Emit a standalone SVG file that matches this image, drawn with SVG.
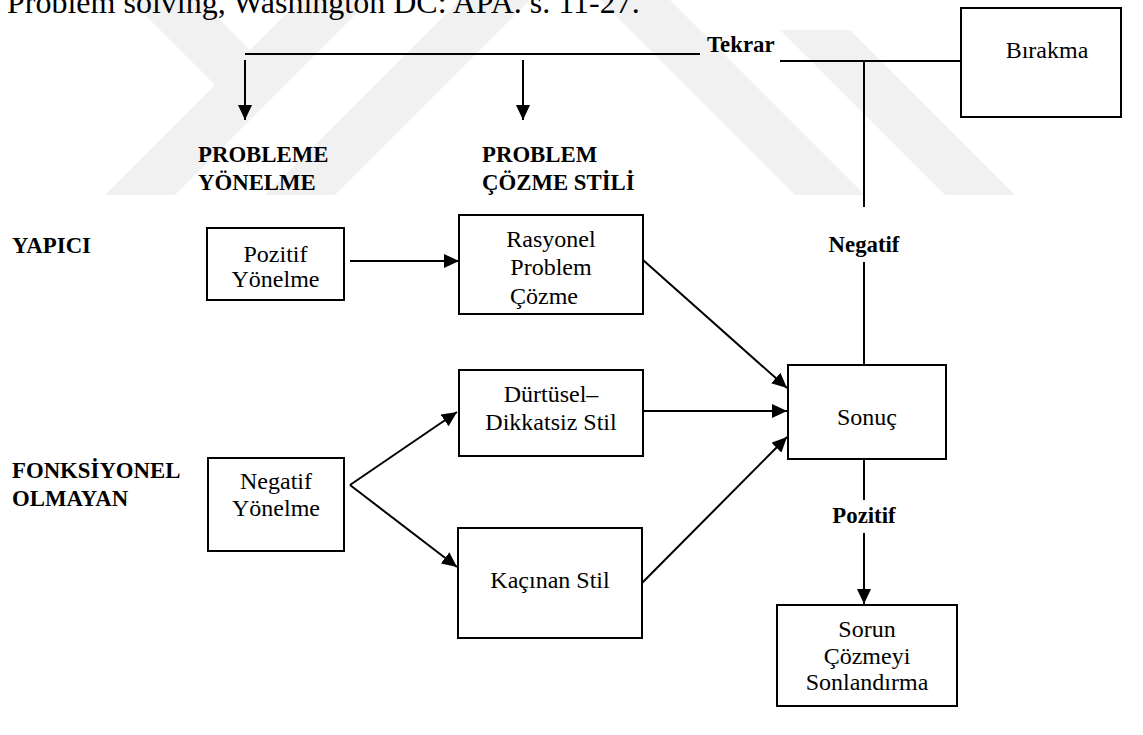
<svg xmlns="http://www.w3.org/2000/svg" width="1143" height="735" viewBox="0 0 1143 735">
<style>
  .bld { font-family: "Liberation Serif", "Times New Roman", serif; font-size: 22.8px; font-weight: bold; fill: #000; }
  .rg { font-family: "Liberation Serif", "Times New Roman", serif; font-size: 24px; font-weight: normal; font-style: normal; fill: #000; text-anchor: middle; }
  .mid { text-anchor: middle; }
  .box { fill: #fff; stroke: #000; stroke-width: 2; }
  .ln { fill: none; stroke: #000; stroke-width: 2; }
  .wm { fill: #f1f1f1; }
</style>
<defs>
  <marker id="ah" markerUnits="userSpaceOnUse" markerWidth="16" markerHeight="14" refX="15" refY="7" orient="auto">
    <path d="M0,0 L15,7 L0,14 z" fill="#000"/>
  </marker>
</defs>
<rect width="1143" height="735" fill="#fff"/>
<g id="watermark">
  <polygon class="wm" points="300,0 370,0 175,195 105,195"/>
  <polygon class="wm" points="460,0 530,0 335,195 265,195"/>
  <polygon class="wm" points="130,0 200,0 260,60 225,95"/>
  <polygon class="wm" points="600,0 670,0 865,195 795,195"/>
  <polygon class="wm" points="780,30 850,30 1015,195 945,195"/>
</g>
<text x="7" y="13" style="font-family:'Liberation Serif',serif;font-size:32px">Problem solving, Washington DC: APA. s. 11-27.</text>

<g id="connectors">
  <line x1="245" y1="54" x2="700" y2="54" class="ln" stroke-width="3"/>
  <line x1="245" y1="60" x2="245" y2="120" class="ln" marker-end="url(#ah)"/>
  <line x1="523" y1="60" x2="523" y2="120" class="ln" marker-end="url(#ah)"/>
  <line x1="780" y1="61" x2="961" y2="61" class="ln"/>
  <line x1="864" y1="61" x2="864" y2="207" class="ln"/>
  <line x1="864" y1="262" x2="864" y2="365" class="ln"/>
  <line x1="350" y1="261" x2="459" y2="261" class="ln" stroke-width="3" marker-end="url(#ah)"/>
  <line x1="643" y1="260" x2="787" y2="388" class="ln" stroke-width="2.5" marker-end="url(#ah)"/>
  <line x1="643" y1="411" x2="787" y2="411" class="ln" stroke-width="2.5" marker-end="url(#ah)"/>
  <line x1="642" y1="583" x2="787" y2="437" class="ln" stroke-width="2.5" marker-end="url(#ah)"/>
  <line x1="350" y1="485" x2="457" y2="412" class="ln" stroke-width="2.5" marker-end="url(#ah)"/>
  <line x1="350" y1="485" x2="457" y2="567" class="ln" stroke-width="2.5" marker-end="url(#ah)"/>
  <line x1="864" y1="459" x2="864" y2="500" class="ln"/>
  <line x1="864" y1="533" x2="864" y2="604" class="ln" stroke-width="2.5" marker-end="url(#ah)"/>
</g>

<g id="labels">
  <text class="bld" x="707" y="52">Tekrar</text>
  <text class="bld mid" x="864" y="252">Negatif</text>
  <text class="bld mid" x="864" y="523">Pozitif</text>
  <text class="bld" x="198" y="162">PROBLEME</text>
  <text class="bld" x="198" y="190">YÖNELME</text>
  <text class="bld" x="482" y="162">PROBLEM</text>
  <text class="bld" x="482" y="190">ÇÖZME STİLİ</text>
  <text class="bld" x="12" y="253">YAPICI</text>
  <text class="bld" x="12" y="478">FONKSİYONEL</text>
  <text class="bld" x="12" y="506">OLMAYAN</text>
</g>

<g id="birakma">
  <rect class="box" x="961" y="8" width="160" height="109"/>
  <text class="rg" x="1047" y="58">Bırakma</text>
</g>
<g id="pozitif-yonelme">
  <rect class="box" x="207" y="228" width="137" height="72"/>
  <text class="rg" x="275.5" y="262">Pozitif</text>
  <text class="rg" x="275.5" y="287">Yönelme</text>
</g>
<g id="rasyonel">
  <rect class="box" x="459" y="215" width="184" height="99"/>
  <text class="rg" x="551" y="247">Rasyonel</text>
  <text class="rg" x="551" y="275">Problem</text>
  <text class="rg" x="544" y="304">Çözme</text>
</g>
<g id="durtusel">
  <rect class="box" x="459" y="370" width="184" height="86"/>
  <text class="rg" x="551" y="402">Dürtüsel–</text>
  <text class="rg" x="551" y="430">Dikkatsiz Stil</text>
</g>
<g id="kacinan">
  <rect class="box" x="458" y="528" width="184" height="110"/>
  <text class="rg" x="550" y="588">Kaçınan Stil</text>
</g>
<g id="negatif-yonelme">
  <rect class="box" x="208" y="458" width="136" height="93"/>
  <text class="rg" x="276" y="489">Negatif</text>
  <text class="rg" x="276" y="516">Yönelme</text>
</g>
<g id="sonuc">
  <rect class="box" x="788" y="365" width="158" height="94"/>
  <text class="rg" x="867" y="425">Sonuç</text>
</g>
<g id="sorun">
  <rect class="box" x="777" y="605" width="180" height="101"/>
  <text class="rg" x="867" y="637">Sorun</text>
  <text class="rg" x="867" y="664">Çözmeyi</text>
  <text class="rg" x="867" y="690">Sonlandırma</text>
</g>
</svg>
